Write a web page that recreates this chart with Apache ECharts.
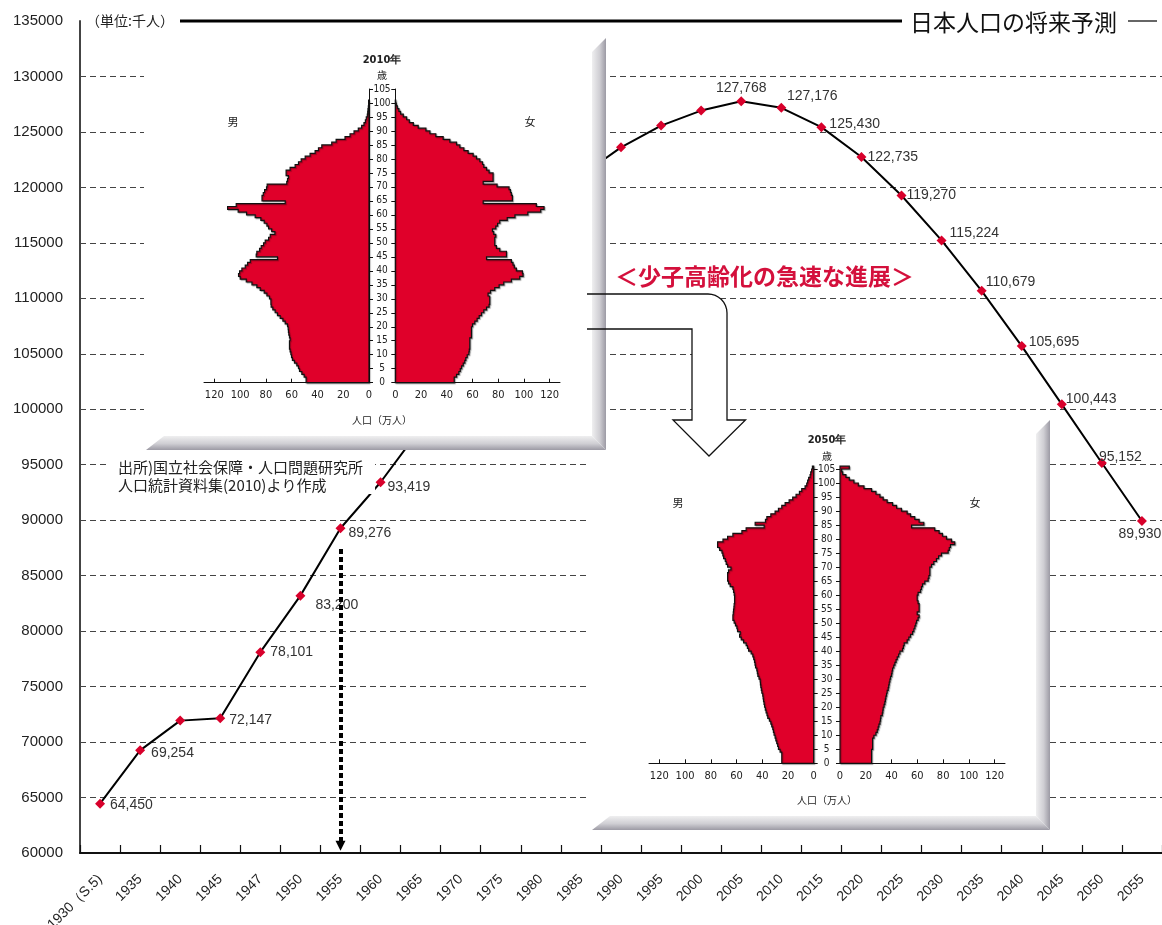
<!DOCTYPE html>
<html>
<head>
<meta charset="utf-8">
<script src="https://cdn.jsdelivr.net/npm/echarts@6/dist/echarts.min.js"></script>
<style>
  html, body { margin: 0; padding: 0; background: #fff; }
  #chart { width: 1162px; height: 925px; }
</style>
</head>
<body>
<div id="chart"></div>
<script>
// ---- Total population of Japan (thousand persons), census and projection ----
const years = ['1930（S.5)', '1935', '1940', '1945', '1947', '1950', '1955', '1960', '1965', '1970',
  '1975', '1980', '1985', '1990', '1995', '2000', '2005', '2010', '2015', '2020', '2025', '2030',
  '2035', '2040', '2045', '2050', '2055'];
const population = [64450, 69254, 71933, 72147, 78101, 83200, 89276, 93419, 98275, 103720,
  111940, 117060, 121049, 123611, 125570, 126926, 127768, 127176, 125430, 122735, 119270, 115224,
  110679, 105695, 100443, 95152, 89930];
// years whose value is printed next to the marker
const labelledYears = ['1930（S.5)', '1935', '1945', '1947', '1950', '1955', '1960', '2005', '2010',
  '2015', '2020', '2025', '2030', '2035', '2040', '2045', '2050', '2055'];

// ---- Population pyramids, 10 thousand persons per single year of age (index = age) ----
const male2010 = [48.8, 48.8, 50.3, 52.1, 53.9, 54.7, 56.0, 57.8, 59.4, 60.1,
  60.6, 61.2, 61.7, 61.7, 61.7, 61.2, 61.7, 62.2, 62.5, 62.7,
  63.2, 65.0, 66.8, 68.9, 71.0, 72.8, 74.6, 75.9, 76.1, 76.1,
  77.2, 79.2, 81.3, 84.4, 87.0, 90.8, 95.2, 99.9, 101.2, 100.4,
  98.6, 96.0, 94.2, 92.1, 71.0, 87.5, 87.0, 84.9, 83.6, 81.8,
  80.5, 77.9, 76.6, 73.0, 75.5, 77.9, 79.2, 81.3, 83.9, 88.3,
  95.0, 101.5, 109.7, 103.0, 65.0, 83.0, 83.0, 82.0, 81.0, 79.5,
  79.0, 63.8, 63.2, 62.5, 64.3, 64.3, 61.2, 57.3, 54.7, 52.6,
  49.5, 45.7, 41.8, 39.2, 36.6, 28.9, 25.5, 18.6, 14.7, 11.6,
  8.3, 5.7, 3.9, 2.8, 2.1, 1.3, 1.0, 0.8, 0.5, 0.3,
  0.3];
const female2010 = [45.8, 45.8, 47.6, 49.4, 50.5, 51.5, 52.8, 54.0, 54.8, 55.9,
  57.2, 57.5, 57.9, 57.9, 57.9, 57.9, 59.2, 59.2, 59.2, 59.2,
  60.0, 61.8, 63.6, 65.2, 67.0, 68.8, 70.9, 72.9, 73.4, 73.4,
  73.4, 72.1, 74.0, 77.3, 80.7, 84.3, 90.2, 96.7, 99.3, 98.8,
  94.1, 92.5, 91.5, 90.2, 70.9, 86.4, 86.4, 81.2, 78.6, 77.3,
  77.3, 77.3, 78.1, 76.5, 75.5, 78.1, 79.5, 81.2, 87.0, 93.0,
  103.0, 113.0, 115.6, 109.6, 68.3, 91.0, 91.0, 90.2, 89.5, 88.4,
  79.1, 68.3, 76.0, 76.0, 76.0, 72.9, 70.9, 68.8, 67.8, 65.7,
  63.1, 60.5, 56.6, 53.3, 50.2, 47.6, 42.4, 37.2, 31.5, 26.9,
  23.8, 17.8, 14.0, 10.9, 8.8, 6.2, 4.1, 2.8, 1.6, 0.8,
  0.3];
const male2050 = [24.8, 24.8, 24.8, 24.8, 26.1, 27.4, 28.0, 28.7, 29.4, 30.0,
  30.8, 31.3, 31.8, 32.6, 33.3, 34.4, 35.7, 36.3, 37.0, 37.6,
  38.2, 38.6, 39.0, 39.3, 39.6, 40.3, 40.7, 41.1, 41.4, 41.6,
  42.5, 43.4, 43.8, 44.2, 45.2, 45.6, 46.0, 46.6, 47.3, 48.6,
  50.6, 51.5, 52.5, 54.5, 56.3, 57.6, 57.1, 59.2, 59.7, 60.8,
  61.8, 62.8, 62.8, 62.5, 62.3, 62.0, 61.8, 61.5, 61.5, 61.5,
  61.8, 62.3, 62.8, 64.9, 66.2, 66.9, 66.9, 66.9, 66.2, 64.3,
  66.9, 68.0, 68.7, 70.0, 70.6, 71.3, 73.1, 74.7, 74.7, 70.5,
  66.9, 62.8, 55.8, 52.5, 38.5, 45.5, 37.5, 36.4, 33.3, 30.0,
  27.4, 24.8, 22.2, 19.1, 16.3, 13.7, 11.1, 9.3, 6.7, 5.4,
  4.7, 3.9, 2.8, 2.3, 1.6, 1.0];
const female2050 = [24.5, 24.5, 24.5, 24.5, 24.5, 25.3, 25.3, 25.3, 25.3, 26.3,
  27.9, 28.9, 29.6, 30.2, 31.0, 31.4, 31.7, 32.8, 33.2, 33.5,
  34.2, 34.8, 35.2, 35.6, 36.1, 36.6, 37.4, 37.8, 38.2, 38.7,
  39.2, 40.0, 40.4, 40.8, 41.7, 42.6, 43.5, 44.4, 45.5, 46.5,
  48.5, 49.2, 49.8, 52.1, 53.4, 54.7, 56.3, 57.3, 58.1, 58.8,
  59.4, 60.6, 61.4, 59.9, 61.4, 61.4, 61.4, 60.6, 59.9, 59.9,
  60.6, 62.5, 63.2, 64.0, 65.8, 68.4, 69.0, 69.7, 69.7, 69.7,
  71.0, 72.8, 74.8, 76.5, 78.7, 83.9, 84.8, 85.7, 89.0, 86.5,
  82.6, 79.5, 76.9, 73.5, 55.5, 65.0, 61.4, 58.0, 54.7, 52.1,
  47.7, 43.9, 40.8, 36.6, 33.5, 31.0, 27.9, 24.5, 18.6, 14.2,
  10.8, 7.2, 4.6, 2.1, 1.3, 7.2];
const pyramidTicks = [0, 20, 40, 60, 80, 100, 120];

// ---- styling ----
const FONT_NUM = '"Liberation Sans", Arial, sans-serif';
const FONT_JP = '"Noto Sans CJK JP", "Noto Sans CJK SC", sans-serif';
const FONT_NARROW = '"Liberation Sans Narrow", "DejaVu Sans Condensed", "Liberation Sans", sans-serif';
const RED = '#e0002a';
const MARKER_RED = '#d8002b';

// where each printed value sits relative to its marker
const labelPlacement = {
  '1930（S.5)': { position: 'right', offset: [0, 2] },
  '1935': { position: 'right', offset: [1, 3] },
  '1945': { position: 'right', offset: [-1, 2] },
  '1947': { position: 'right', offset: [0, 0] },
  '1950': { position: 'right', offset: [5, 10] },
  '1955': { position: 'right', offset: [-2, 5] },
  '1960': { position: 'right', offset: [-3, 5] },
  '2005': { position: 'top', offset: [0, 4] },
  '2010': { position: 'top', offset: [31, 5] },
  '2015': { position: 'right', offset: [-2, -3] },
  '2020': { position: 'right', offset: [-4, 0] },
  '2025': { position: 'right', offset: [-5, 0] },
  '2030': { position: 'right', offset: [-2, -7] },
  '2035': { position: 'right', offset: [-6, -9] },
  '2040': { position: 'right', offset: [-3, -4] },
  '2045': { position: 'right', offset: [-6, -5] },
  '2050': { position: 'right', offset: [-13, -6] },
  '2055': { position: 'bottom', offset: [-2, -4] }
};

function thousands(v) {
  return String(v).replace(/\B(?=(\d{3})+(?!\d))/g, ',');
}

const lineData = population.map(function (v, i) {
  const y = years[i];
  const item = { value: v };
  if (labelledYears.indexOf(y) >= 0) {
    const p = labelPlacement[y];
    item.label = { show: true, position: p.position, offset: p.offset };
  } else {
    item.label = { show: false };
  }
  return item;
});

// ---- pyramid halves: one polygon per half, traced from the per-age values ----
function renderHalf(params, api) {
  if (params.dataIndexInside !== 0) return null;
  const n = params.dataInsideLength;
  const pts = [api.coord([0, 0])];
  for (let i = 0; i < n; i++) {
    const v = api.value(0, i);
    const age = api.value(1, i);
    pts.push(api.coord([v, age]));
    pts.push(api.coord([v, age + 1]));
  }
  pts.push(api.coord([0, api.value(1, n - 1) + 1]));
  return {
    type: 'polygon',
    shape: { points: pts },
    style: {
      fill: RED,
      stroke: '#111',
      lineWidth: 1.2,
      lineJoin: 'miter',
      shadowColor: 'rgba(0,0,0,0.30)',
      shadowOffsetX: 1,
      shadowOffsetY: 1,
      shadowBlur: 1
    }
  };
}

const pyramidGrids = [
  { left: 204, top: 89, width: 165, height: 293.7 },
  { left: 395.3, top: 89, width: 164.7, height: 293.7 },
  { left: 649, top: 469, width: 164.7, height: 294.3 },
  { left: 840, top: 469, width: 165, height: 294.3 }
];
const pyramidSets = [male2010, female2010, male2050, female2050];

function pyramidXAxis(gridIndex, male) {
  return {
    type: 'value', gridIndex: gridIndex, min: 0, max: 128, inverse: male, z: 8,
    axisLine: { show: true, lineStyle: { color: '#111', width: 1 } },
    axisTick: { show: true, inside: true, length: 4, customValues: pyramidTicks, lineStyle: { color: '#111' } },
    axisLabel: { show: true, customValues: pyramidTicks, margin: 7, fontSize: 11, fontFamily: FONT_NARROW, color: '#222' },
    splitLine: { show: false }
  };
}
function pyramidYAxis(gridIndex, male) {
  return {
    type: 'value', gridIndex: gridIndex, min: 0, max: 105, interval: 5, z: 8,
    position: male ? 'right' : 'left',
    axisLine: { show: true, onZero: false, lineStyle: { color: '#111', width: 1 } },
    axisTick: { show: true, length: 4, lineStyle: { color: '#111' } },
    axisLabel: male
      ? { show: true, align: 'center', margin: 13, fontSize: 10, fontFamily: FONT_NARROW, color: '#222' }
      : { show: false },
    splitLine: { show: false }
  };
}

// ---- decorative panels behind the pyramids ----
function bevelGradient(horizontal) {
  return new echarts.graphic.LinearGradient(0, 0, horizontal ? 1 : 0, horizontal ? 0 : 1, [
    { offset: 0, color: '#efeff0' }, { offset: 0.55, color: '#cfced3' }, { offset: 1, color: '#9c9aa4' }]);
}
function panel(l, t, r, b, bev, z) {
  return [
    { type: 'rect', z: z, silent: true, shape: { x: l, y: t, width: r - bev - l, height: b - bev - t }, style: { fill: '#fff' } },
    { type: 'polygon', z: z, silent: true,
      shape: { points: [[r - bev, t + bev], [r, t], [r, b], [r - bev, b - bev]] },
      style: { fill: bevelGradient(true) } },
    { type: 'polygon', z: z, silent: true,
      shape: { points: [[l + bev + 6, b - bev], [r - bev, b - bev], [r, b], [l + 2, b]] },
      style: { fill: bevelGradient(false) } }
  ];
}

function text(x, y, str, font, opts) {
  return {
    type: 'text', x: x, y: y, z: 12, silent: true,
    style: Object.assign({ text: str, font: font, fill: '#222', align: 'center', verticalAlign: 'middle' }, (opts || {}))
  };
}

// bent hollow arrow leading from the 2010 panel down to the 2050 panel
function arrowOutline(startX) {
  const pts = [[startX, 294]];
  const cx = 708, cy = 313, rad = 19;
  for (let k = 0; k <= 8; k++) {
    const a = -Math.PI / 2 + (Math.PI / 2) * k / 8;
    pts.push([cx + rad * Math.cos(a), cy + rad * Math.sin(a)]);
  }
  pts.push([727, 420], [745.5, 420], [709, 456], [673, 420], [692, 420], [692, 329], [startX, 329]);
  return pts;
}

const graphics = []
  .concat(panel(590, 420, 1050, 830, 14, 5))
  .concat([{ type: 'polygon', z: 6, silent: true, shape: { points: arrowOutline(606) }, style: { fill: '#fff' } }])
  .concat(panel(144, 38, 606, 450, 14, 7))
  .concat([
    { type: 'polyline', z: 7.5, silent: true, shape: { points: arrowOutline(587) }, style: { fill: null, stroke: '#111', lineWidth: 1.3 } },
    // heading rule and title
    { type: 'line', z: 12, silent: true, shape: { x1: 180, y1: 21, x2: 902, y2: 21 }, style: { stroke: '#000', lineWidth: 3 } },
    { type: 'line', z: 12, silent: true, shape: { x1: 1128, y1: 21, x2: 1157, y2: 21 }, style: { stroke: '#000', lineWidth: 1.2 } },
    text(910, 22, '日本人口の将来予測', '23px ' + FONT_JP, { align: 'left', fill: '#111' }),
    text(86, 21, '（単位:千人）', '14px ' + FONT_JP, { align: 'left' }),
    text(615, 276, '＜少子高齢化の急速な進展＞', 'bold 23px ' + FONT_JP, { align: 'left', fill: '#d4103c' }),
    text(110, 458, '出所)国立社会保障・人口問題研究所\n人口統計資料集(2010)より作成', '15px ' + FONT_JP,
      { align: 'left', verticalAlign: 'top', lineHeight: 18, backgroundColor: '#fff', padding: [0, 12, 0, 8] }),
    // 2010 pyramid captions
    text(382, 60, '2010年', 'bold 11px ' + FONT_NARROW),
    text(382, 75, '歳', '10px ' + FONT_JP),
    text(233, 122, '男', '11px ' + FONT_JP),
    text(530, 122, '女', '11px ' + FONT_JP),
    text(382, 420, '人口（万人）', '10px ' + FONT_JP),
    // 2050 pyramid captions
    text(827, 440, '2050年', 'bold 11px ' + FONT_NARROW),
    text(827, 456, '歳', '10px ' + FONT_JP),
    text(678, 503, '男', '11px ' + FONT_JP),
    text(975, 503, '女', '11px ' + FONT_JP),
    text(827, 800, '人口（万人）', '10px ' + FONT_JP)
  ]);

const chart = echarts.init(document.getElementById('chart'), null, { renderer: 'canvas' });

const option = {
  backgroundColor: '#fff',
  animation: false,
  grid: [{ left: 80, right: 0, top: 21, bottom: 72, outerBoundsMode: 'none' }]
    .concat(pyramidGrids.map(function (g) { return Object.assign({ outerBoundsMode: 'none' }, g); })),
  xAxis: [{
    type: 'category', gridIndex: 0, data: years, boundaryGap: true,
    axisLine: { show: true, lineStyle: { color: '#111', width: 2 } },
    axisTick: { show: true, inside: true, length: 8, lineStyle: { color: '#111', width: 1.2 } },
    axisLabel: { interval: 0, rotate: 45, margin: 24, fontSize: 14, fontFamily: FONT_NUM, color: '#222' },
    splitLine: { show: false }
  }].concat(pyramidSets.map(function (_, i) { return pyramidXAxis(i + 1, i % 2 === 0); })),
  yAxis: [{
    type: 'value', gridIndex: 0, min: 60000, max: 135000, interval: 5000,
    axisLine: { show: true, lineStyle: { color: '#444', width: 2 } },
    axisTick: { show: false },
    axisLabel: { margin: 17, fontSize: 15, fontFamily: FONT_NUM, color: '#222',
      formatter: function (v) { return String(v); } },
    splitLine: { show: true, showMinLine: false, showMaxLine: false, lineStyle: { color: '#444', width: 1, type: [6, 4] } }
  }].concat(pyramidSets.map(function (_, i) { return pyramidYAxis(i + 1, i % 2 === 0); })),
  graphic: { elements: graphics },
  series: [{
    type: 'line', name: '総人口', xAxisIndex: 0, yAxisIndex: 0, z: 2,
    data: lineData,
    symbol: 'diamond', symbolSize: 10, showAllSymbol: true,
    itemStyle: { color: MARKER_RED },
    lineStyle: { color: '#000', width: 2 },
    label: { fontSize: 14, fontFamily: FONT_NUM, color: '#333', distance: 5,
      formatter: function (p) { return thousands(p.value); } },
    emphasis: { disabled: true },
    markLine: {
      silent: true, animation: false,
      symbol: ['none', 'triangle'], symbolSize: 10,
      lineStyle: { color: '#000', width: 4, type: [5, 3] },
      label: { show: false },
      emphasis: { disabled: true },
      data: [[{ coord: [6, 87400] }, { coord: [6, 60650] }]]
    }
  }].concat(pyramidSets.map(function (vals, i) {
    return {
      type: 'custom', name: ['男2010', '女2010', '男2050', '女2050'][i],
      xAxisIndex: i + 1, yAxisIndex: i + 1, z: 10,
      encode: { x: 0, y: 1 },
      data: vals.map(function (v, age) { return [v, age]; }),
      renderItem: renderHalf,
      silent: true
    };
  }))
};

chart.setOption(option);
</script>
</body>
</html>
